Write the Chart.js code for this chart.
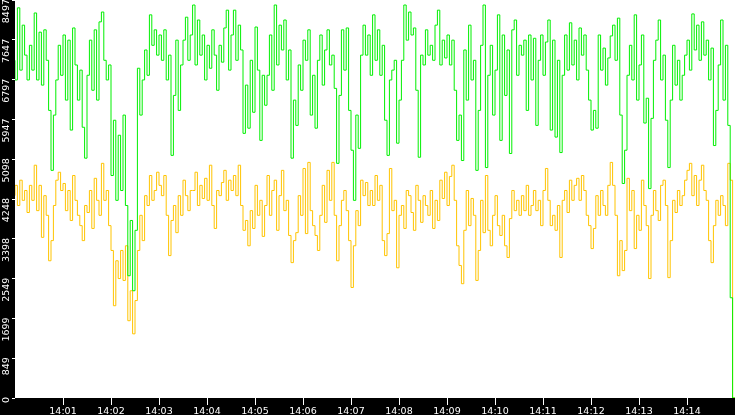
<!DOCTYPE html>
<html>
<head>
<meta charset="utf-8">
<script src="https://cdn.jsdelivr.net/npm/chart.js@4/dist/chart.umd.min.js"></script>
<style>
  html, body { margin: 0; padding: 0; background: #000; }
  #wrap { position: relative; width: 735px; height: 415px; }
</style>
</head>
<body>
<div id="wrap"><canvas id="statsChart"></canvas></div>
<script>
// one sample every 3 seconds from 14:00:00 to 14:15:00
const sampleSeconds = 3;

const greenSeries = [
  7210, 6790, 8330, 7000, 7960, 7320, 6790, 7530, 7000, 8220,
  6790, 7810, 6680, 7860, 7210, 6140, 4860, 6040, 6790, 7530,
  6890, 7750, 6360, 7640, 5720, 7900, 7110, 6360, 7000, 5780,
  5120, 6890, 7640, 6570, 7860, 6360, 8030, 8240, 7210, 6790,
  7110, 4750, 5930, 4220, 5610, 4430, 6040, 4110, 2610, 3790,
  2290, 3580, 7040, 6040, 6790, 7430, 6890, 8180, 7530, 7860,
  7320, 7750, 7210, 7860, 6790, 7320, 5180, 6460, 7640, 6140,
  7110, 7640, 8130, 7210, 7750,
  8390, 7110, 8070, 7320, 7750, 6790, 7530, 7040, 7860, 7320,
  6570, 7530, 7170, 7900, 8280, 7000, 7750, 8280, 7210, 7960,
  7430, 5650, 6680, 5760, 7210, 6100, 7920, 7000, 5500, 6890,
  6250, 6890, 7750, 6570, 8390, 7110, 7960, 7430, 8070, 6790,
  7430, 5120, 6360, 5820, 7110, 6570, 7640, 7210, 7860, 6040,
  6890, 5760, 7210, 7750, 6680, 7430, 7860, 7110, 7320, 6610,
  5010, 6460, 7860, 7000, 7900, 6140, 5290, 4220, 6040, 5330,
  7320, 7960, 7320, 7750, 6890,
  8180, 7210, 7860, 6890, 7530, 5930, 5180, 6790, 7000, 7210,
  5440, 6360, 7210, 8390, 7640, 8240, 7750, 7900, 6570, 5140,
  7320, 7110, 7860, 7320, 7530, 7210, 7960, 8280, 7110, 7640,
  7260, 7750, 7110, 7640, 6570, 5500, 6040, 5070, 7430, 6360,
  7960, 6790, 7210, 4860, 6140, 7530, 8390, 4920, 6890, 7530,
  6040, 7000, 8180, 5500, 7750, 6460, 7430, 5220, 7860, 8070,
  6890, 7530, 7320, 7640, 6140, 7750, 6790, 7680, 5820, 7210,
  7750, 6890, 7600, 8070, 5720,
  7640, 5570, 7210, 5240, 6890, 7750, 7000, 8010, 7110, 7640,
  6790, 7900, 7320, 7750, 7000, 6360, 5720, 6140, 5760, 7750,
  7000, 7470, 6680, 7260, 7730, 7960, 7210, 8110, 6040, 4580,
  5290, 6890, 7530, 6790, 8180, 6360, 7110, 7750, 5870, 6400,
  4470, 5970, 7210, 7640, 8070, 6790, 7320, 5930, 4920, 6360,
  7530, 6680, 7210, 6360, 6890, 7320, 7640, 7000, 8200, 7430,
  7960, 7210, 8030, 7320, 7640, 6790, 7470, 5390, 6140, 7110,
  8070, 6360, 7530, 5820, 2140,
  0
];

const amberSeries = [
  4320, 4540, 4110, 4650, 4220, 4430, 3960, 4540, 4220, 4970,
  4000, 4540, 3430, 4320, 3900, 2930, 3360, 4110, 4650, 4820,
  4430, 4580, 4000, 4430, 3790, 4750, 4220, 3900, 3680, 3360,
  4110, 3960, 4430, 3620, 4690, 4220, 3900, 5010, 4220, 4430,
  3680, 3150, 1970, 2930, 2550, 3150, 2510, 3250, 1650, 2290,
  1370, 2080, 3150, 3900, 3360, 4320, 4110, 4750, 4220, 4430,
  4820, 4540, 4320, 4750, 3900, 3040, 3790, 4110, 3530, 4320,
  3900, 4650, 4320, 4000, 4430,
  4430, 4820, 4110, 4540, 4260, 4690, 4220, 4970, 4110, 3620,
  4430, 4320, 4600, 4860, 4220, 4650, 4430, 4750, 4320, 4970,
  4110, 3580, 3790, 3250, 4000, 3620, 4540, 3900, 4220, 3450,
  4110, 4750, 3900, 4430, 4650, 3580, 4320, 4860, 4000, 4220,
  3470, 2890, 3360, 3530, 4320, 3900, 4900, 3510, 5030, 4000,
  3680, 3470, 3150, 3900, 4540, 3750, 4860, 4220, 5030, 3900,
  2930, 3680, 4220, 4430, 4000, 3360, 2360, 3250, 4000, 3680,
  4650, 4320, 4600, 4110, 4430,
  4110, 4750, 4220, 4540, 3360, 3040, 3510, 4900, 4000, 4220,
  2780, 3900, 4110, 3620, 4430, 4320, 3960, 3580, 4540, 4220,
  3750, 4320, 4110, 3900, 4430, 3620, 4220, 3790, 4650, 4260,
  4820, 4110, 4730, 4970, 4220, 3250, 2830, 2440, 3580, 4430,
  3680, 4260, 3900, 2510, 3150, 4220, 3530, 4750, 3580, 3250,
  3900, 4320, 3680, 3470, 3900, 3250, 3000, 3830, 4430, 4000,
  4220, 3900, 4320, 4000, 4540, 3900, 4110, 4430, 4000, 4220,
  3680, 4430, 4900, 4220, 3680,
  3900, 3580, 4110, 3000, 4220, 4430, 3960, 4650, 4220, 4540,
  4690, 4220, 4750, 4430, 3900, 3680, 3190, 3620, 4320, 3900,
  4430, 4110, 3900, 4540, 5030, 4540, 3900, 2610, 3360, 2720,
  3150, 4690, 4000, 4430, 3190, 3900, 3580, 4650, 4110, 3680,
  2550, 3900, 4430, 4000, 3790, 4540, 4650, 4110, 2570, 3360,
  4220, 3960, 4430, 4110, 4320, 4650, 4860, 5010, 4320, 4750,
  4110, 4650, 4970, 4430, 4220, 3360, 2890, 3680, 4220, 3900,
  4320, 4110, 3680, 5010, 4650,
  0
];

const yTicks = [0, 849, 1699, 2549, 3398, 4248, 5098, 5947, 6797, 7647, 8497];
const xTickSeconds = [60, 120, 180, 240, 300, 360, 420, 480, 540, 600, 660, 720, 780, 840];
const xTickLabels = ['14:01', '14:02', '14:03', '14:04', '14:05', '14:06', '14:07',
                     '14:08', '14:09', '14:10', '14:11', '14:12', '14:13', '14:14'];

document.addEventListener("DOMContentLoaded", () => {
    const wrap = document.getElementById('wrap');
    const ctx = document.getElementById('statsChart').getContext('2d');

    const toPoints = arr => arr.map((v, i) => ({ x: i * sampleSeconds, y: v }));

    // white plot area on black frame
    const plotBg = {
        id: 'plotBg',
        beforeDatasetsDraw(chart) {
            const a = chart.chartArea;
            const c = chart.ctx;
            c.save();
            c.fillStyle = '#ffffff';
            c.fillRect(a.left, a.top, a.right - a.left, a.bottom - a.top);
            c.restore();
        }
    };

    const tickFont = { family: "'DejaVu Sans'", size: 9.5 };

    new Chart(ctx, {
        type: 'line',
        data: {
            datasets: [{
                label: 'green',
                data: toPoints(greenSeries),
                borderColor: '#00f000',
                borderWidth: 1,
                pointRadius: 0,
                stepped: 'after'
            }, {
                label: 'amber',
                data: toPoints(amberSeries),
                borderColor: '#ffc400',
                borderWidth: 1,
                pointRadius: 0,
                stepped: 'after'
            }]
        },
        options: {
            responsive: true,
            maintainAspectRatio: false,
            animation: false,
            events: [],
            layout: { padding: 0 },
            plugins: {
                legend: { display: false },
                tooltip: { enabled: false }
            },
            scales: {
                x: {
                    type: 'linear',
                    min: 0,
                    max: xTickSeconds.length * 60 + 60,
                    border: { display: false },
                    grid: { drawOnChartArea: false, color: '#fff', tickLength: 7, tickWidth: 1 },
                    ticks: {
                        color: '#fff',
                        font: tickFont,
                        padding: 1,
                        maxRotation: 0,
                        autoSkip: false,
                        callback: (v, i) => xTickLabels[i]
                    },
                    afterBuildTicks: s => { s.ticks = xTickSeconds.map(v => ({ value: v })); },
                    afterFit: s => { s.height = 17; s.paddingLeft = 0; s.paddingRight = 0; }
                },
                y: {
                    min: 0,
                    max: yTicks[yTicks.length - 1],
                    border: { display: false },
                    grid: { drawOnChartArea: false, color: '#fff', tickLength: 3, tickWidth: 1 },
                    ticks: {
                        color: '#fff',
                        font: tickFont,
                        padding: 5,
                        minRotation: 90,
                        maxRotation: 90,
                        labelOffset: -1,
                        autoSkip: false,
                        callback: v => String(v)
                    },
                    afterBuildTicks: s => { s.ticks = yTicks.map(v => ({ value: v })); },
                    afterFit: s => { s.width = 15; s.paddingTop = 0; s.paddingBottom = 0; }
                }
            }
        },
        plugins: [plotBg]
    });
});
</script>
</body>
</html>
